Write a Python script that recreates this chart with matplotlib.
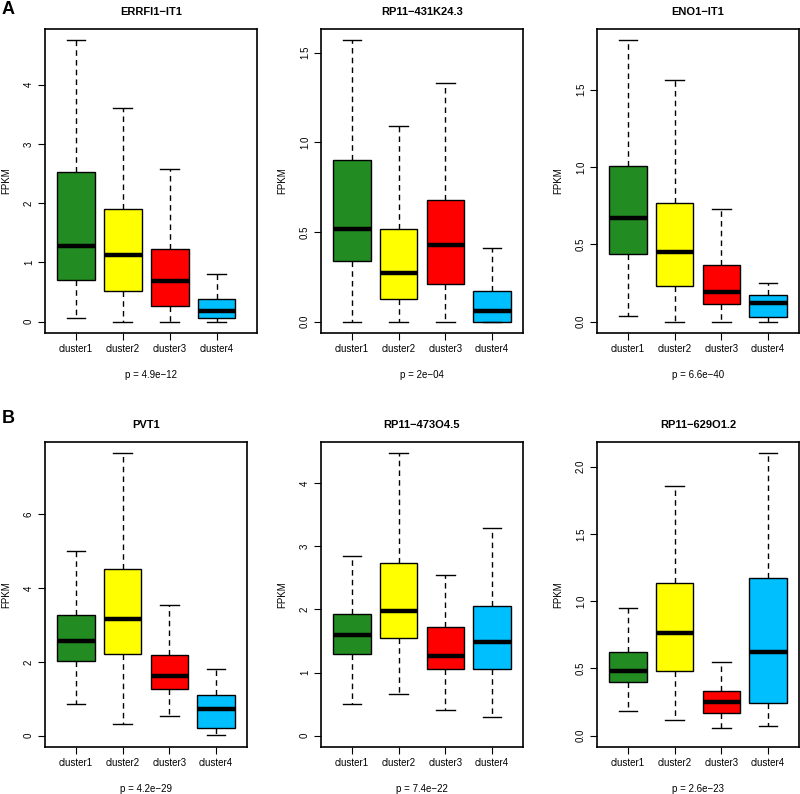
import matplotlib
matplotlib.use("Agg")
import matplotlib.pyplot as plt
import numpy as np

plt.rcParams["font.family"] = ["Liberation Sans", "DejaVu Sans"]

clusters = ["cluster1", "cluster2", "cluster3", "cluster4"]
colors = ["#228B22", "#FFFF00", "#FF0000", "#00BFFF"]

genes = ["ERRFI1\u2212IT1", "RP11\u2212431K24.3", "ENO1\u2212IT1",
         "PVT1", "RP11\u2212473O4.5", "RP11\u2212629O1.2"]
pvals = ["p = 4.9e\u221212", "p = 2e\u221204", "p = 6.6e\u221240",
         "p = 4.2e\u221229", "p = 7.4e\u221222", "p = 2.6e\u221223"]

# per gene, per cluster: lower whisker, q1, median, q3, upper whisker
errfi1 = [[0.06, 0.70, 1.27, 2.53, 4.75],
          [0.00, 0.52, 1.12, 1.90, 3.60],
          [0.00, 0.27, 0.68, 1.22, 2.57],
          [0.00, 0.07, 0.18, 0.39, 0.80]]
rp11_431 = [[0.00, 0.34, 0.52, 0.90, 1.57],
            [0.00, 0.128, 0.27, 0.52, 1.09],
            [0.00, 0.21, 0.43, 0.68, 1.33],
            [0.00, 0.00, 0.06, 0.17, 0.41]]
eno1 = [[0.04, 0.44, 0.67, 1.005, 1.82],
        [0.00, 0.234, 0.453, 0.765, 1.56],
        [0.00, 0.114, 0.19, 0.37, 0.73],
        [0.00, 0.03, 0.12, 0.17, 0.25]]
pvt1 = [[0.87, 2.03, 2.57, 3.27, 5.00],
        [0.33, 2.21, 3.16, 4.51, 7.66],
        [0.53, 1.27, 1.63, 2.20, 3.55],
        [0.03, 0.20, 0.72, 1.10, 1.80]]
rp11_473 = [[0.50, 1.29, 1.59, 1.93, 2.85],
            [0.66, 1.545, 1.98, 2.73, 4.47],
            [0.41, 1.05, 1.26, 1.72, 2.54],
            [0.29, 1.05, 1.48, 2.05, 3.28]]
rp11_629 = [[0.18, 0.40, 0.48, 0.62, 0.95],
            [0.12, 0.48, 0.76, 1.135, 1.86],
            [0.06, 0.17, 0.25, 0.33, 0.55],
            [0.075, 0.24, 0.62, 1.17, 2.10]]
all_stats = [errfi1, rp11_431, eno1, pvt1, rp11_473, rp11_629]

yticks = [np.arange(0, 5, 1), np.arange(0, 2.0, 0.5), np.arange(0, 2.0, 0.5),
          np.arange(0, 8, 2), np.arange(0, 5, 1), np.arange(0, 2.5, 0.5)]
yfmt = ["%d", "%.1f", "%.1f", "%d", "%d", "%.1f"]

W, H = 800, 794
fig = plt.figure(figsize=(W / 100, H / 100), dpi=100)

# axes boxes in pixels: left, top, right, bottom
boxes = [(45, 29, 257, 333), (321, 29, 523, 333), (597, 29, 799, 333),
         (45, 442, 247, 747), (321, 442, 523, 747), (597, 442, 799, 747)]

for i, (gene, st) in enumerate(zip(genes, all_stats)):
    l, t, r, b = boxes[i]
    ax = fig.add_axes([l / W, 1 - b / H, (r - l) / W, (b - t) / H])
    stats = [dict(whislo=s[0], q1=s[1], med=s[2], q3=s[3], whishi=s[4], fliers=[])
             for s in st]
    parts = ax.bxp(stats, positions=[1, 2, 3, 4], widths=0.8, patch_artist=True,
                   showfliers=False,
                   boxprops=dict(edgecolor="black", linewidth=1.0),
                   medianprops=dict(color="black", linewidth=3.2, solid_capstyle="butt"),
                   whiskerprops=dict(color="black", linewidth=1.0, linestyle=(0, (4, 3))),
                   capprops=dict(color="black", linewidth=1.0),
                   capwidths=0.4)
    for patch, c in zip(parts["boxes"], colors):
        patch.set_facecolor(c)

    hi = max(s[4] for s in st)
    ax.set_ylim(-0.04 * hi, 1.04 * hi)
    xr = 4.86 if i == 0 else 4.66
    ax.set_xlim(0.34, xr)
    ax.set_yticks(yticks[i])
    ax.set_yticklabels([yfmt[i] % v for v in yticks[i]], rotation=90, va="center")
    ax.set_xticks([1, 2, 3, 4])
    ax.set_xticklabels(clusters)
    ax.tick_params(labelsize=7, length=5, width=0.8, colors="black", pad=3)
    for sp in ax.spines.values():
        sp.set_linewidth(1.2)

    # y label, title and p-value placed in pixels
    fig.text((l - 39) / W, 1 - (t + b) / 2 / H, "FPKM", rotation=90,
             ha="center", va="center", fontsize=7)
    fig.text((l + r) / 2 / W, 1 - (t - 17) / H, gene, ha="center", va="center",
             fontsize=8, fontweight="bold")
    fig.text((l + r) / 2 / W, 1 - (b + 42) / H, pvals[i], ha="center", va="center",
             fontsize=7)

fig.text(2 / W, 1 - 10 / H, "A", fontsize=13, fontweight="bold", va="center", ha="left")
fig.text(2 / W, 1 - 418 / H, "B", fontsize=13, fontweight="bold", va="center", ha="left")

fig.savefig("out.png", dpi=100)
